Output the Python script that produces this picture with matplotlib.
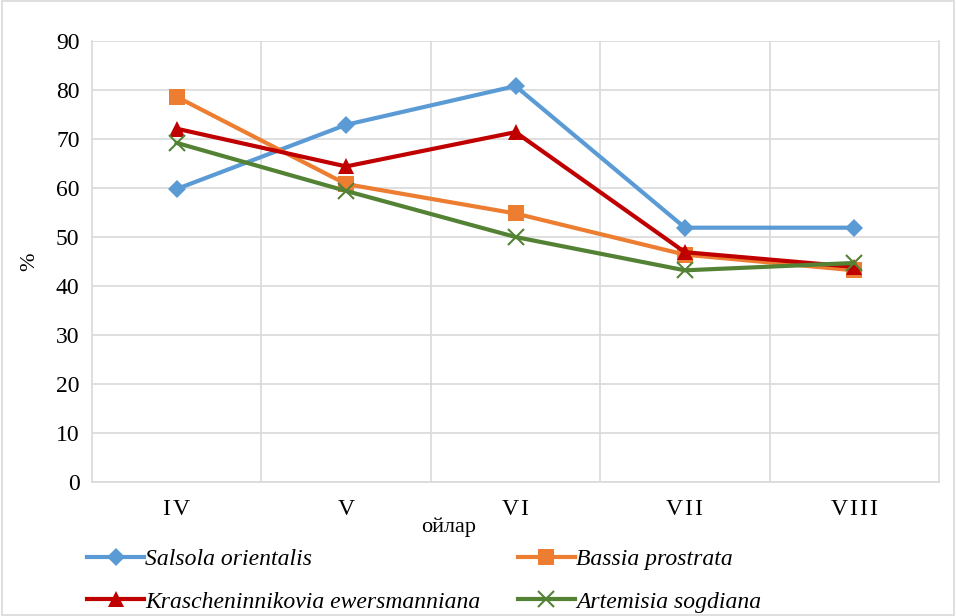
import numpy as np
import matplotlib.pyplot as plt

months = ['I\u200aV', 'V', 'V\u200aI', 'V\u200aI\u200aI', 'V\u200aI\u200aI\u200aI']
salsola = [59.8, 72.9, 80.8, 51.9, 51.9]
bassia = [78.6, 60.8, 54.8, 46.4, 43.2]
krasch = [72.1, 64.4, 71.4, 46.9, 43.9]
artemisia = [69.2, 59.4, 50.0, 43.2, 44.7]

names = ['Salsola orientalis', 'Bassia prostrata',
         'Krascheninnikovia ewersmanniana', 'Artemisia sogdiana']
colors = ['#5b9bd5', '#ed7d31', '#c00000', '#548235']
markers = ['D', 's', '^', 'x']
sizes = [9, 11, 11, 11]

plt.rcParams['font.family'] = ['Liberation Serif', 'DejaVu Serif']

fig = plt.figure(figsize=(9.56, 6.16), dpi=100)
ax = fig.add_axes([92/956, 1 - 482/616, (939-92)/956, (482-41)/616])

x = np.arange(len(months))
series = [salsola, bassia, krasch, artemisia]
lines = []
for vals, name, c, m, s in zip(series, names, colors, markers, sizes):
    ln, = ax.plot(x, vals, color=c, lw=3, marker=m, markersize=s,
                  markeredgewidth=1.5 if m == 'x' else 0, markeredgecolor=c,
                  label=name)
    lines.append(ln)

ax.set_xlim(-0.5, len(months) - 0.5)
ax.set_ylim(0, 90)
ax.set_yticks(range(0, 91, 10))
ax.set_xticks(x)
ax.set_xticklabels(months)
ax.set_xticks(np.arange(0.5, len(months) - 0.5, 1), minor=True)
ax.grid(True, which='major', axis='y', color='#d9d9d9', lw=1.2)
ax.grid(True, which='minor', axis='x', color='#d9d9d9', lw=1.2)
ax.set_axisbelow(True)
ax.tick_params(axis='both', which='both', length=0, labelsize=17)
ax.tick_params(axis='x', pad=12)
ax.tick_params(axis='y', pad=9)
ax.spines['top'].set_visible(False)
for side in ['bottom', 'left', 'right']:
    ax.spines[side].set_color('#d9d9d9')
    ax.spines[side].set_linewidth(1.2)

# axis title sits left of centre in the original
fig.text(449/956, 1 - 527/616, 'ойлар', fontsize=16, ha='center', va='center')
ax.set_ylabel('%', fontsize=16, labelpad=12)

# row-major order like the original
order = [0, 2, 1, 3]
fig.legend([lines[i] for i in order], [names[i] for i in order],
           loc='upper left', bbox_to_anchor=(66/956, 1 - 527/616), ncol=2,
           frameon=False,
           prop={'family': 'Liberation Serif', 'style': 'italic', 'size': 17},
           handlelength=2.4, handletextpad=0.05, columnspacing=1.6,
           labelspacing=0.9)

# outer frame
fig.patches.append(plt.Rectangle((0.002, 0.002), 0.996, 0.996, transform=fig.transFigure,
                                 fill=False, edgecolor='#d9d9d9', lw=1.2))

fig.savefig('out.png', dpi=100)
